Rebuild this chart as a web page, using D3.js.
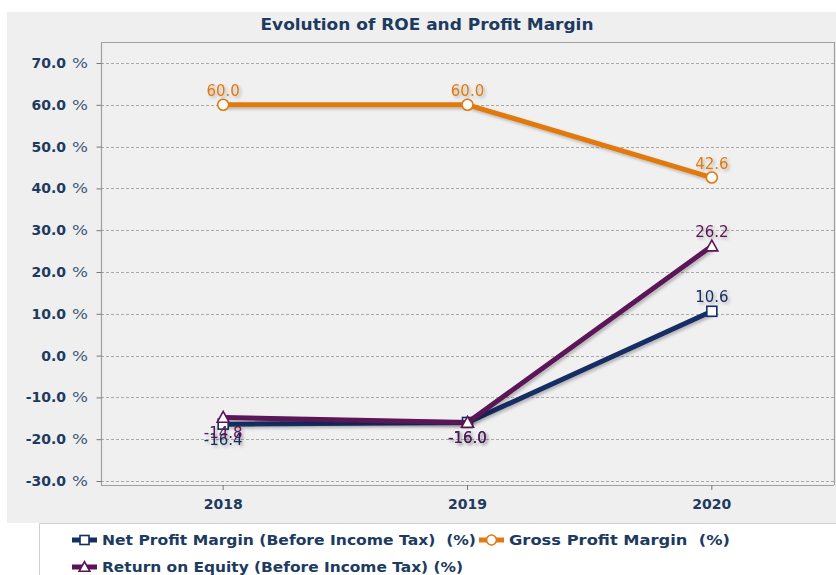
<!DOCTYPE html>
<html>
<head>
<meta charset="utf-8">
<script src="https://cdn.jsdelivr.net/npm/d3@7"></script>
<style>
  body { margin: 0; background: #fff; }
  svg { display: block; }
</style>
</head>
<body>
<svg id="mainsvg" width="836" height="575"></svg>
<script>
// data
const years = ["2018", "2019", "2020"];
const netProfitMargin = [-16.4, -16.0, 10.6];
const grossProfitMargin = [60.0, 60.0, 42.6];
const returnOnEquity = [-14.8, -16.0, 26.2];
const yTicks = [70, 60, 50, 40, 30, 20, 10, 0, -10, -20, -30];

const series = [
    { name: "Net Profit Margin (Before Income Tax)  (%)", values: netProfitMargin, color: "#152e63", shape: "square" },
    { name: "Gross Profit Margin  (%)", values: grossProfitMargin, color: "#e2790f", shape: "circle" },
    { name: "Return on Equity (Before Income Tax) (%)", values: returnOnEquity, color: "#5a1456", shape: "triangle" },
];

const svg = d3.select('#mainsvg');
const navy = "#1d3a5f";
const font = "'DejaVu Sans', Verdana, sans-serif";
const plot = { left: 101, right: 834, top: 42, bottom: 485 };
const fmt = d => d.toFixed(1);

// shadow filter
const defs = svg.append("defs");
const f = defs.append("filter").attr("id", "shadow").attr("x", "-20%").attr("y", "-20%").attr("width", "150%").attr("height", "150%");
f.append("feDropShadow").attr("dx", 2).attr("dy", 2).attr("stdDeviation", 1.5).attr("flood-color", "#000").attr("flood-opacity", 0.25);

// backgrounds
svg.append("rect").attr("x", 7).attr("y", 12).attr("width", 829).attr("height", 511).attr("fill", "#efefef");
svg.append("path").attr("d", "M39.5,575 V523.5 H836").attr("fill", "none").attr("stroke", "#d0d0d0");

// title
svg.append("text").text("Evolution of ROE and Profit Margin")
    .attr("x", 427).attr("y", 30)
    .attr("text-anchor", "middle")
    .attr("font-family", font)
    .attr("font-weight", "bold").attr("font-size", 15)
    .attr("textLength", 333).attr("lengthAdjust", "spacingAndGlyphs")
    .attr("fill", navy);

// scales
const xScale = d3.scaleBand().domain(years).range([plot.left, plot.right]);
const yScale = d3.scaleLinear().domain([-30, 70]).range([481, 63]);
const xOf = d => xScale(d) + xScale.bandwidth() / 2;

// plot area
svg.append("rect").attr("x", plot.left).attr("y", plot.top)
    .attr("width", plot.right - plot.left).attr("height", plot.bottom - plot.top)
    .attr("fill", "#f0f0f0");

// grid lines
svg.append("g").selectAll("line").data(yTicks).join("line")
    .attr("x1", plot.left).attr("x2", plot.right)
    .attr("y1", d => Math.round(yScale(d)) + 0.5).attr("y2", d => Math.round(yScale(d)) + 0.5)
    .attr("stroke", "#a9a9a9").attr("stroke-dasharray", "3,2");

// plot border
svg.append("path")
    .attr("d", `M${plot.left + 0.5},${plot.bottom} V${plot.top + 0.5} H${plot.right + 0.5} V${plot.bottom}`)
    .attr("fill", "none").attr("stroke", "#a0a0a0").attr("stroke-width", 1.2);

// y axis
const yAxis = d3.axisLeft(yScale).tickValues(yTicks).tickSize(5).tickFormat("");
const gy = svg.append("g").attr("transform", `translate(${plot.left + 0.5},0)`).call(yAxis);
gy.select(".domain").remove();
gy.selectAll(".tick line").attr("stroke", "#777");
const yl = svg.append("g");
yl.selectAll("text.num").data(yTicks).join("text").attr("class", "num")
    .attr("x", 66).attr("y", d => yScale(d) + 5)
    .attr("text-anchor", "end")
    .attr("font-family", font).attr("font-weight", "bold")
    .attr("font-size", 14).attr("fill", navy)
    .text(fmt);
yl.selectAll("text.pct").data(yTicks).join("text").attr("class", "pct")
    .attr("x", 72).attr("y", d => yScale(d) + 5)
    .attr("font-family", font).attr("font-size", 14)
    .attr("textLength", 16).attr("lengthAdjust", "spacingAndGlyphs")
    .attr("fill", "#3e5a7a").text("%");

// x axis
const xAxis = d3.axisBottom(xScale).tickSize(5).tickFormat("");
const gx = svg.append("g").attr("transform", `translate(0,${plot.bottom})`).call(xAxis);
gx.select(".domain").attr("stroke", "#a0a0a0").attr("d", `M${plot.left},0.5H${plot.right}`);
gx.selectAll(".tick line").attr("stroke", "#777");
svg.append("g").selectAll("text").data(years).join("text")
    .attr("x", d => xOf(d)).attr("y", 509)
    .attr("text-anchor", "middle")
    .attr("font-family", font)
    .attr("font-weight", "bold").attr("font-size", 14)
    .attr("fill", navy).text(d => d);

// markers
function marker(sel, shape, color, size) {
    if (shape === "circle") {
        sel.append("circle").attr("r", size * 0.55).attr("fill", "#fff").attr("stroke", color).attr("stroke-width", 1.6);
    } else if (shape === "square") {
        sel.append("rect").attr("x", -size / 2).attr("y", -size / 2).attr("width", size).attr("height", size)
            .attr("fill", "#fff").attr("stroke", color).attr("stroke-width", 1.6);
    } else {
        const s = size * 0.6;
        sel.append("path").attr("d", `M0,${-s} L${s},${s * 0.8} L${-s},${s * 0.8} Z`)
            .attr("fill", "#fff").attr("stroke", color).attr("stroke-width", 1.6);
    }
}

// lines
const line = d3.line().x((d, i) => xOf(years[i])).y(d => yScale(d));
series.forEach(s => {
    const g = svg.append("g");
    g.append("path").datum(s.values)
        .attr("d", line).attr("fill", "none")
        .attr("stroke", s.color).attr("stroke-width", 5)
        .attr("stroke-linejoin", "round")
        .attr("filter", "url(#shadow)");
    s.values.forEach((v, i) => {
        const m = g.append("g").attr("transform", `translate(${xOf(years[i])},${yScale(v)})`);
        marker(m, s.shape, s.color, 10);
    });
});

// value labels
series.forEach(s => {
    svg.append("g").selectAll("text").data(s.values).join("text")
        .attr("x", (d, i) => xOf(years[i]))
        .attr("y", d => d < 0 ? yScale(d) + 21 : yScale(d) - 9)
        .attr("text-anchor", "middle")
        .attr("font-family", font)
        .attr("font-size", 15)
        .attr("fill", s.color)
        .attr("filter", "url(#shadow)")
        .text(fmt);
});

// legend
const legendItems = [
    { s: series[0], x: 72, y: 540, w: 374 },
    { s: series[1], x: 479, y: 540, w: 221 },
    { s: series[2], x: 72, y: 567, w: 361 },
];
legendItems.forEach(li => {
    const g = svg.append("g").attr("transform", `translate(${li.x},${li.y})`);
    g.append("line").attr("x1", 0).attr("x2", 25).attr("y1", 0).attr("y2", 0)
        .attr("stroke", li.s.color).attr("stroke-width", 5);
    const m = g.append("g").attr("transform", "translate(12.5,0)");
    marker(m, li.s.shape, li.s.color, 9);
    g.append("text").attr("x", 30).attr("y", 5)
        .style("white-space", "pre")
        .attr("font-family", font)
        .attr("font-weight", "bold").attr("font-size", 14)
        .attr("textLength", li.w).attr("lengthAdjust", "spacingAndGlyphs")
        .attr("fill", navy).text(li.s.name);
});
</script>
</body>
</html>
